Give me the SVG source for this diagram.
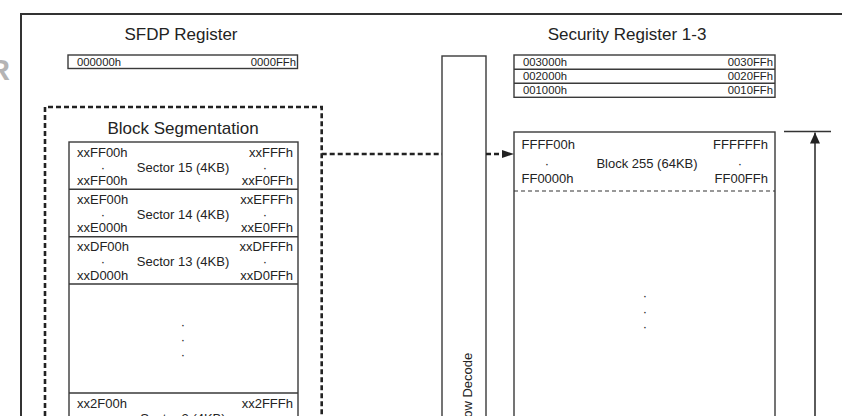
<svg xmlns="http://www.w3.org/2000/svg" width="842" height="416" viewBox="0 0 842 416">
<defs>
<style>
text{font-family:"Liberation Sans",Arial,sans-serif;fill:#232323}
.t{font-size:17px;text-anchor:middle}
.s{font-size:11.3px}
.m{font-size:13px}
.c{text-anchor:middle}
.e{text-anchor:end}
.box{fill:none;stroke:#3a3a3a;stroke-width:1.4}
.frame{fill:none;stroke:#333;stroke-width:2}
.dash{fill:none;stroke:#222;stroke-width:2.6;stroke-dasharray:5 3}
</style>
<marker id="ah" viewBox="0 0 12 8" refX="12" refY="4" markerWidth="12" markerHeight="8" markerUnits="userSpaceOnUse" orient="auto">
<path d="M0,0 L12,4 L0,8 Z" fill="#222"/>
</marker>
<marker id="ah2" viewBox="0 0 11 10" refX="11" refY="5" markerWidth="11" markerHeight="10" markerUnits="userSpaceOnUse" orient="auto">
<path d="M0,0 L11,5 L0,10 Z" fill="#222"/>
</marker>
</defs>
<rect width="842" height="416" fill="#fff"/>
<text x="10" y="80" class="e" style="font-size:29px;font-weight:bold;fill:#b4b4b4">R</text>
<path class="frame" d="M21,416 V14 H842"/>

<g id="sfdp">
<text x="181" y="40" class="t">SFDP Register</text>
<rect x="68" y="55" width="229.5" height="13.5" class="box"/>
<text x="77" y="66" class="s">000000h</text>
<text x="296" y="66" class="s e">0000FFh</text>
</g>

<g id="block-segmentation">
<path class="dash" d="M45,416 V107 H321.7 V416"/>
<text x="183" y="134" class="t">Block Segmentation</text>
<rect x="69" y="142" width="229" height="290" class="box"/>
<path class="box" d="M69,189.3 H298 M69,236.7 H298 M69,284 H298 M69,393 H298"/>
<g id="sector15">
<text x="77" y="156.5" class="m">xxFF00h</text>
<text x="293" y="156.5" class="m e">xxFFFh</text>
<text x="103" y="171.5" class="m c">·</text>
<text x="183" y="171.5" class="m c">Sector 15 (4KB)</text>
<text x="265" y="171.5" class="m c">·</text>
<text x="77" y="185" class="m">xxFF00h</text>
<text x="293" y="185" class="m e">xxF0FFh</text>
</g>
<g id="sector14">
<text x="77" y="203.5" class="m">xxEF00h</text>
<text x="293" y="203.5" class="m e">xxEFFFh</text>
<text x="103" y="218.5" class="m c">·</text>
<text x="183" y="218.5" class="m c">Sector 14 (4KB)</text>
<text x="265" y="218.5" class="m c">·</text>
<text x="77" y="232" class="m">xxE000h</text>
<text x="293" y="232" class="m e">xxE0FFh</text>
</g>
<g id="sector13">
<text x="77" y="251" class="m">xxDF00h</text>
<text x="293" y="251" class="m e">xxDFFFh</text>
<text x="103" y="266" class="m c">·</text>
<text x="183" y="266" class="m c">Sector 13 (4KB)</text>
<text x="265" y="266" class="m c">·</text>
<text x="77" y="279.5" class="m">xxD000h</text>
<text x="293" y="279.5" class="m e">xxD0FFh</text>
</g>
<g id="sector-gap">
<text x="183" y="329" class="m c">·</text>
<text x="183" y="344" class="m c">·</text>
<text x="183" y="359" class="m c">·</text>
</g>
<g id="sector2">
<text x="77" y="407.5" class="m">xx2F00h</text>
<text x="293" y="407.5" class="m e">xx2FFFh</text>
<text x="183" y="422.5" class="m c">Sector 2 (4KB)</text>
</g>
</g>

<g id="row-decode">
<rect x="442" y="56" width="44" height="380" class="box"/>
<text transform="translate(472,390) rotate(-90)" class="m c">Row Decode</text>
</g>

<g id="security-registers">
<text x="627" y="40" class="t">Security Register 1-3</text>
<rect x="514" y="55" width="261" height="42.3" class="box"/>
<path class="box" d="M514,69.3 H775 M514,83.3 H775"/>
<text x="523" y="66" class="s">003000h</text>
<text x="773" y="66" class="s e">0030FFh</text>
<text x="523" y="80" class="s">002000h</text>
<text x="773" y="80" class="s e">0020FFh</text>
<text x="523" y="93.8" class="s">001000h</text>
<text x="773" y="93.8" class="s e">0010FFh</text>
</g>

<g id="memory-array">
<rect x="514" y="132" width="261" height="300" class="box"/>
<path d="M514,191 H775" fill="none" stroke="#333" stroke-width="1.2" stroke-dasharray="4 3"/>
<text x="521.5" y="149" class="m">FFFF00h</text>
<text x="768" y="149" class="m e">FFFFFFh</text>
<text x="547" y="167.5" class="m c">·</text>
<text x="647" y="167.5" class="m c">Block 255 (64KB)</text>
<text x="740" y="167.5" class="m c">·</text>
<text x="521.5" y="183" class="m">FF0000h</text>
<text x="768" y="183" class="m e">FF00FFh</text>
<text x="645" y="300" class="m c">·</text>
<text x="645" y="316" class="m c">·</text>
<text x="645" y="331" class="m c">·</text>
</g>

<g id="connectors">
<path class="dash" d="M321.7,154 H442"/>
<path class="dash" d="M486,154 H503" />
<path d="M502,154 H514" stroke="none" fill="none" marker-end="url(#ah)"/>
<path d="M784,131.5 H831" fill="none" stroke="#333" stroke-width="1.4"/>
<path d="M815,416 V132.5" fill="none" stroke="#333" stroke-width="1.6" marker-end="url(#ah2)"/>
</g>
</svg>
